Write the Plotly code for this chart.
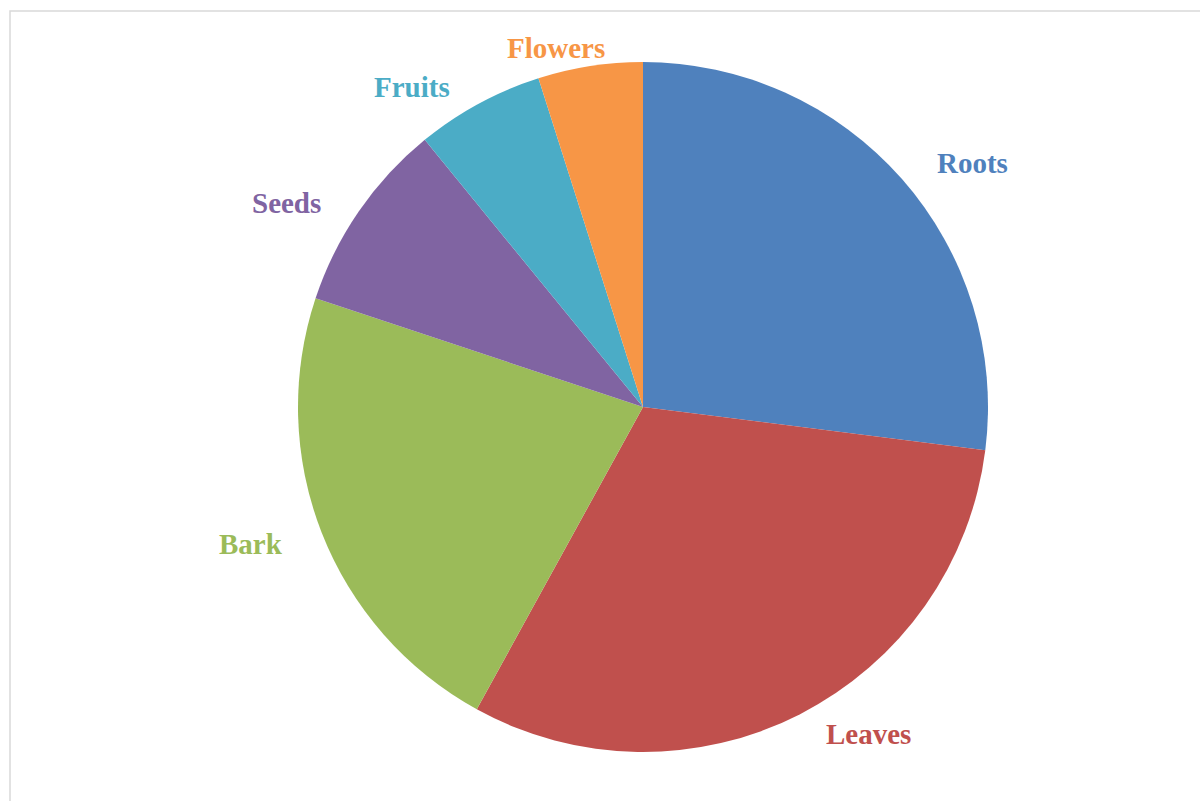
import plotly.graph_objects as go

# Data
categories = ["Roots", "Leaves", "Bark", "Seeds", "Fruits", "Flowers"]
shares = [27.0, 31.0, 22.1, 9.0, 6.0, 4.9]
colors = ["#4F81BD", "#C0504D", "#9BBB59", "#8064A2", "#4BACC6", "#F79646"]

# Layout constants (pixels)
W, H = 1200, 801
CX, CY, R = 643, 407, 345
label_pos = {
    "Roots": (972, 163),
    "Leaves": (868, 734),
    "Bark": (251, 544),
    "Seeds": (286, 203),
    "Fruits": (412, 87),
    "Flowers": (556, 48),
}

fig = go.Figure(
    go.Pie(
        labels=categories,
        values=shares,
        sort=False,
        direction="clockwise",
        rotation=0,
        marker=dict(colors=colors, line=dict(width=0)),
        textinfo="none",
        showlegend=False,
        domain=dict(
            x=[(CX - R) / W, (CX + R) / W],
            y=[1 - (CY + R) / H, 1 - (CY - R) / H],
        ),
    )
)

annotations = []
for cat, col in zip(categories, colors):
    px, py = label_pos[cat]
    annotations.append(
        dict(
            x=px / W,
            y=1 - py / H,
            xref="paper",
            yref="paper",
            text=cat,
            showarrow=False,
            xanchor="center",
            yanchor="middle",
            font=dict(family="Liberation Serif, Times New Roman, serif", size=29, color=col, weight="bold"),
        )
    )

fig.update_layout(
    width=W,
    height=H,
    margin=dict(l=0, r=0, t=0, b=0),
    paper_bgcolor="white",
    plot_bgcolor="white",
    annotations=annotations,
    shapes=[
        dict(
            type="rect",
            xref="paper",
            yref="paper",
            x0=10 / W,
            x1=1.02,
            y0=-0.02,
            y1=1 - 11 / H,
            line=dict(color="#D9D9D9", width=1.5),
            fillcolor="rgba(0,0,0,0)",
            layer="below",
        )
    ],
)

fig.write_html(
    "out.html",
    config={"displayModeBar": False},
    post_script="document.body.style.margin='0px';document.body.style.overflow='hidden';",
)
